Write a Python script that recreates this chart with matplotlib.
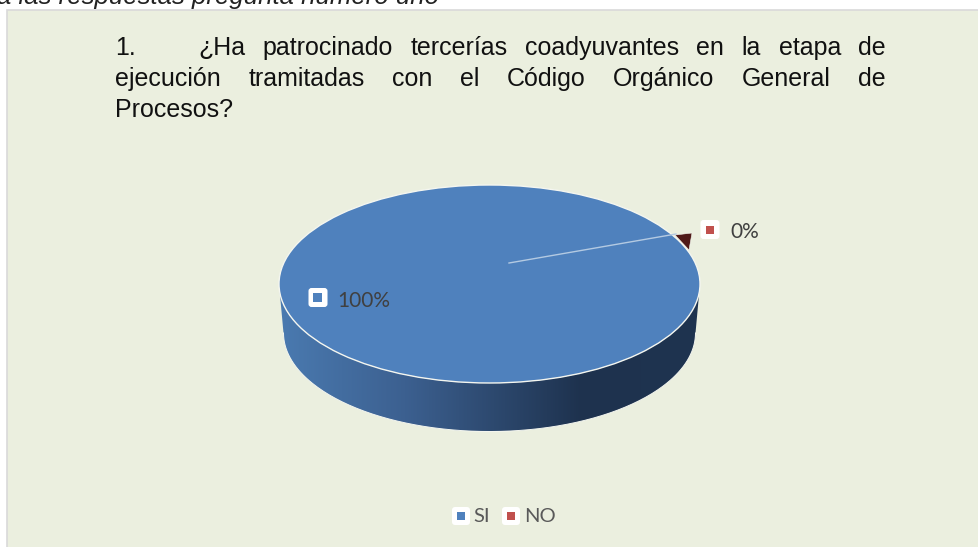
import numpy as np
import matplotlib
matplotlib.use('Agg')
import matplotlib.pyplot as plt
from matplotlib.patches import Ellipse, Polygon, Rectangle, FancyBboxPatch

categories = ['SI', 'NO']
share_labels = ['100%', '0%']
slice_colors = ['#4f81bd', '#c0504d']
title_number = '1.'
title_lines = [
    '¿Ha patrocinado tercerías coadyuvantes en la etapa de',
    'ejecución tramitadas con el Código Orgánico General de',
    'Procesos?',
]
caption = 'a las respuestas pregunta número uno'

W, H = 979, 547
fig = plt.figure(figsize=(W / 100, H / 100), dpi=100, facecolor='white')
ax = fig.add_axes([0, 0, 1, 1])
ax.set_xlim(0, W)
ax.set_ylim(H, 0)
ax.axis('off')

# chart area
ax.add_patch(Rectangle((7, 10), 980, 560, fc='#ebefdf', ec='#d9d9d9', lw=1.2))
ax.text(-3, 4, caption, fontsize=18.5, style='italic', family='Liberation Sans',
        color='#222222', va='baseline', ha='left')

TITLE_SIZE = 18


def justified(line, y, x0, x1):
    words = line.split()
    r = fig.canvas.get_renderer()
    items = [ax.text(x0, y, w, fontsize=TITLE_SIZE, family='Liberation Sans', color='#111111',
                     va='baseline') for w in words]
    widths = [t.get_window_extent(r).width for t in items]
    gap = (x1 - x0 - sum(widths)) / (len(words) - 1)
    x = x0
    for t, w in zip(items, widths):
        t.set_x(x)
        x += w + gap


ax.text(115, 55, title_number, fontsize=TITLE_SIZE, family='Liberation Sans', color='#111111', va='baseline')
justified(title_lines[0], 55, 198, 886)
justified(title_lines[1], 86, 115, 886)
ax.text(115, 117, title_lines[2], fontsize=TITLE_SIZE, family='Liberation Sans', color='#111111',
        va='baseline')

# pie geometry
cx, cy, rx, ry = 489.5, 284, 210.5, 99
bot_cy, bot_rx, bot_ry = 333, 206, 98.5
t = np.linspace(0, np.pi, 200)
bottom = np.c_[cx + bot_rx * np.cos(t), bot_cy + bot_ry * np.sin(t)]
upper = np.c_[cx + rx * np.cos(t[::-1]), cy + ry * np.sin(t[::-1])]
side = Polygon(np.r_[bottom, upper], closed=True, fc='none', ec='none')
ax.add_patch(side)
stops = np.array([[0x4a, 0x7a, 0xb0], [0x3c, 0x60, 0x90], [0x1e, 0x32, 0x4e], [0x1f, 0x34, 0x50]]) / 255
pos = np.linspace(0, 1, 300)
grad = np.stack([np.interp(pos, [0, 0.3, 0.72, 1], stops[:, i]) for i in range(3)], axis=-1)[None, :, :]
im = ax.imshow(grad, extent=(cx - rx, cx + rx, bot_cy + bot_ry, cy), aspect='auto', zorder=2)
im.set_clip_path(side)
ax.set_xlim(0, W)
ax.set_ylim(H, 0)
ax.plot(bottom[:, 0], bottom[:, 1], color='#f4f6f0', lw=0.7, zorder=3)

# top face
ax.add_patch(Ellipse((cx, cy), 2 * rx, 2 * ry, fc=slice_colors[0], ec='#f4f6f0', lw=1, zorder=4))
ax.plot([509, 676], [263, 234], color='#b4cae2', lw=1, zorder=5)
ax.add_patch(Polygon([(675, 235), (692, 233), (689, 250)], fc='#4f1a18', ec='#f4f6f0', lw=0.4, zorder=3.5))


def marker(x, y, color, size=19, inner=9):
    ax.add_patch(FancyBboxPatch((x - size / 2 + 2, y - size / 2 + 2), size - 4, size - 4,
                                boxstyle='round,pad=2,rounding_size=3', fc='white', ec='none', zorder=6))
    ax.add_patch(Rectangle((x - inner / 2, y - inner / 2), inner, inner, fc=color, ec='none', zorder=7))


# data labels
marker(318, 297.5, slice_colors[0])
ax.text(337.5, 301, share_labels[0], fontsize=15, family='Lato', color='#404040', va='center', zorder=7)
marker(710, 229.5, slice_colors[1], inner=8)
ax.text(730, 231.5, share_labels[1], fontsize=15, family='Lato', color='#404040', va='center', zorder=7)

# legend
marker(461, 516, slice_colors[0], size=18, inner=8)
ax.text(473, 516.5, categories[0], fontsize=14.5, family='Lato', color='#595959', va='center')
marker(511, 516, slice_colors[1], size=18, inner=8)
ax.text(524.5, 516.5, categories[1], fontsize=14.5, family='Lato', color='#595959', va='center')

fig.savefig('out.png', dpi=100)
